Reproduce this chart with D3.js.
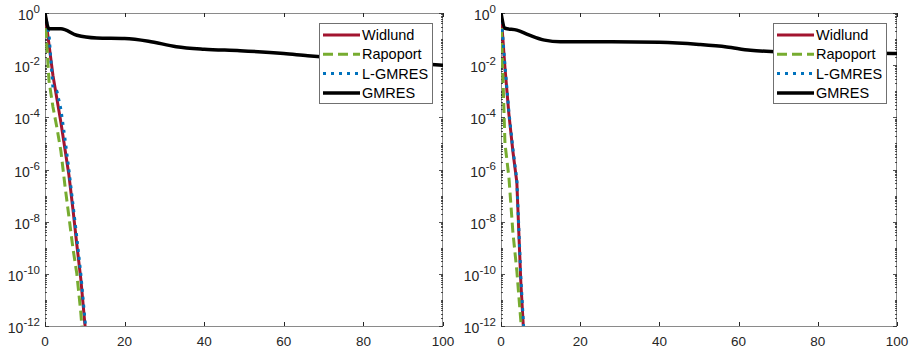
<!DOCTYPE html>
<html>
<head>
<meta charset="utf-8">
<script src="https://cdn.jsdelivr.net/npm/d3@7"></script>
<style>
  body { margin: 0; background: #fff; }
  svg { display: block; font-family: "Liberation Sans", Arial, sans-serif; }
</style>
</head>
<body>
<svg id="chart" width="912" height="349"></svg>
<script>
// ---- data (residual vs iteration) ----
const seriesNames = ['Widlund', 'Rapoport', 'L-GMRES', 'GMRES'];
const xTickValues = [0, 20, 40, 60, 80, 100];
const yLabelExps = [0, -2, -4, -6, -8, -10, -12];

// left panel
const leftWidlundX = [0, 1, 2, 3, 4, 5, 6, 7, 8, 9, 10, 11];
const leftWidlundY = [1, 6.3e-2, 4.0e-3, 5.0e-4, 6.3e-5, 6.3e-6, 6.3e-7, 3.2e-8, 1.3e-9, 6.3e-11, 1.3e-12, 3.2e-14];
const leftRapoportX = [0, 1, 2, 3, 4, 5, 6, 7, 8, 9, 10];
const leftRapoportY = [1, 2.5e-3, 2.5e-4, 4.0e-5, 5.0e-6, 2.5e-7, 1.6e-8, 1.0e-9, 1.0e-10, 3.2e-12, 3.2e-14];
const leftLgmresX = [0, 1, 2, 3, 4, 5, 6, 7, 8, 9, 10, 11];
const leftLgmresY = [1, 1.6e-1, 1.3e-3, 1.0e-3, 2.0e-4, 1.6e-5, 1.0e-6, 5.0e-8, 2.5e-9, 1.0e-10, 2.0e-12, 5.0e-14];
const leftGmresX = [0, 1, 4, 8, 13, 20, 26, 33, 40, 49, 60, 66, 75, 85, 100];
const leftGmresY = [1, 0.25, 0.25, 0.14, 0.11, 0.105, 0.083, 0.051, 0.041, 0.036, 0.028, 0.023, 0.018, 0.014, 0.010];

// right panel
const rightWidlundX = [0, 1, 2, 3, 4, 5, 6];
const rightWidlundY = [1, 7.9e-3, 1.3e-4, 5.0e-6, 3.2e-7, 5.0e-11, 1.0e-13];
const rightRapoportX = [0, 1, 2, 3, 4, 5, 6];
const rightRapoportY = [1, 1.0e-5, 5.0e-7, 4.0e-9, 1.3e-10, 1.6e-12, 3.2e-14];
const rightLgmresX = [0, 1, 2, 3, 4, 5, 6];
const rightLgmresY = [1, 1.0e-2, 1.6e-4, 6.3e-6, 4.0e-7, 7.9e-11, 1.6e-13];
const rightGmresX = [0, 1, 4, 7, 11, 15, 28, 40, 50, 57, 63, 70, 80, 90, 100];
const rightGmresY = [1, 0.26, 0.22, 0.145, 0.091, 0.079, 0.079, 0.075, 0.062, 0.050, 0.037, 0.033, 0.030, 0.029, 0.028];

// line styles (MATLAB-ish)
const styles = {
	'Widlund':  { color: '#A2142F', dash: null,   width: 3 },
	'Rapoport': { color: '#77AC30', dash: '10,5', width: 3 },
	'L-GMRES':  { color: '#0072BD', dash: '3,5',  width: 3 },
	'GMRES':    { color: '#000000', dash: null,   width: 3.5 }
};

const svg = d3.select('#chart');
const plotTop = 13, plotBottom = 326;

function zip(xs, ys){
	return xs.map((x, i) => ({x: x, y: ys[i]}));
}

function drawPanel(id, left, right, data){
	let x = d3.scaleLinear().domain([0, 100]).range([left, right]),
		y = d3.scaleLog().domain([1e-12, 1]).range([plotBottom, plotTop]);

	let g = svg.append('g').attr('class', 'panel-' + id);

	g.append('clipPath').attr('id', 'clip-' + id)
		.append('rect')
		.attr('x', left).attr('y', plotTop)
		.attr('width', right - left).attr('height', plotBottom - plotTop);

	// box
	g.append('rect')
		.attr('x', left + 0.5).attr('y', plotTop + 0.5)
		.attr('width', right - left - 1).attr('height', plotBottom - plotTop)
		.style('fill', 'none')
		.style('stroke', '#8a8a8a')
		.style('stroke-width', 1);

	// x ticks (inward, top and bottom)
	xTickValues.forEach(v => {
		let px = Math.round(x(v)) + 0.5;
		g.append('line').attr('x1', px).attr('x2', px).attr('y1', plotBottom).attr('y2', plotBottom - 4)
			.style('stroke', '#262626');
		g.append('line').attr('x1', px).attr('x2', px).attr('y1', plotTop).attr('y2', plotTop + 4)
			.style('stroke', '#262626');
		g.append('text')
			.attr('x', x(v)).attr('y', 346)
			.attr('text-anchor', 'middle')
			.style('font-size', '13.5px')
			.style('fill', '#262626')
			.text(v);
	});

	// y ticks: minor for every m*10^k, major for labelled decades
	for (let k = -12; k <= 0; k++){
		for (let m = 1; m <= 9; m++){
			let v = m * Math.pow(10, k);
			if (v > 1) continue;
			let major = (m == 1 && k % 2 == 0),
				len = major ? 4 : 2,
				py = Math.round(y(v)) + 0.5;
			g.append('line').attr('x1', left).attr('x2', left + len).attr('y1', py).attr('y2', py)
				.style('stroke', '#262626').style('stroke-width', 0.8);
			g.append('line').attr('x1', right).attr('x2', right - len).attr('y1', py).attr('y2', py)
				.style('stroke', '#262626').style('stroke-width', 0.8);
		}
	}

	yLabelExps.forEach(e => {
		let t = g.append('text')
			.attr('x', left - 5)
			.attr('y', y(Math.pow(10, e)) + 7)
			.attr('text-anchor', 'end')
			.style('font-size', '14px')
			.style('fill', '#262626');
		t.append('tspan').text('10');
		t.append('tspan').attr('dy', -7).style('font-size', '11.5px').text(e);
	});

	// the curves
	let lines = g.append('g').attr('clip-path', 'url(#clip-' + id + ')');
	seriesNames.forEach(name => {
		let s = styles[name],
			line = d3.line()
				.x(d => x(d.x))
				.y(d => y(d.y))
				.curve(name == 'GMRES' ? d3.curveMonotoneX : d3.curveLinear);
		lines.append('path')
			.datum(data[name])
			.attr('d', line)
			.style('fill', 'none')
			.style('stroke', s.color)
			.style('stroke-width', s.width)
			.style('stroke-dasharray', s.dash)
			.style('stroke-linejoin', 'round');
	});

	// legend
	let lx = right - 124, ly = 23,
		legend = g.append('g').attr('class', 'legend');
	legend.append('rect')
		.attr('x', lx + 0.5).attr('y', ly + 0.5)
		.attr('width', 113).attr('height', 80)
		.style('fill', '#fff')
		.style('stroke', '#707070')
		.style('stroke-width', 1);
	seriesNames.forEach((name, i) => {
		let s = styles[name],
			cy = ly + 12 + i * 19.3;
		legend.append('line')
			.attr('x1', lx + 4).attr('x2', lx + 41)
			.attr('y1', cy).attr('y2', cy)
			.style('stroke', s.color)
			.style('stroke-width', s.width)
			.style('stroke-dasharray', s.dash);
		legend.append('text')
			.attr('x', lx + 43).attr('y', cy + 5)
			.style('font-size', '14.5px')
			.style('fill', '#000')
			.text(name);
	});
}

drawPanel('left', 45, 443, {
	'Widlund': zip(leftWidlundX, leftWidlundY),
	'Rapoport': zip(leftRapoportX, leftRapoportY),
	'L-GMRES': zip(leftLgmresX, leftLgmresY),
	'GMRES': zip(leftGmresX, leftGmresY)
});

drawPanel('right', 501, 897, {
	'Widlund': zip(rightWidlundX, rightWidlundY),
	'Rapoport': zip(rightRapoportX, rightRapoportY),
	'L-GMRES': zip(rightLgmresX, rightLgmresY),
	'GMRES': zip(rightGmresX, rightGmresY)
});
</script>
</body>
</html>
